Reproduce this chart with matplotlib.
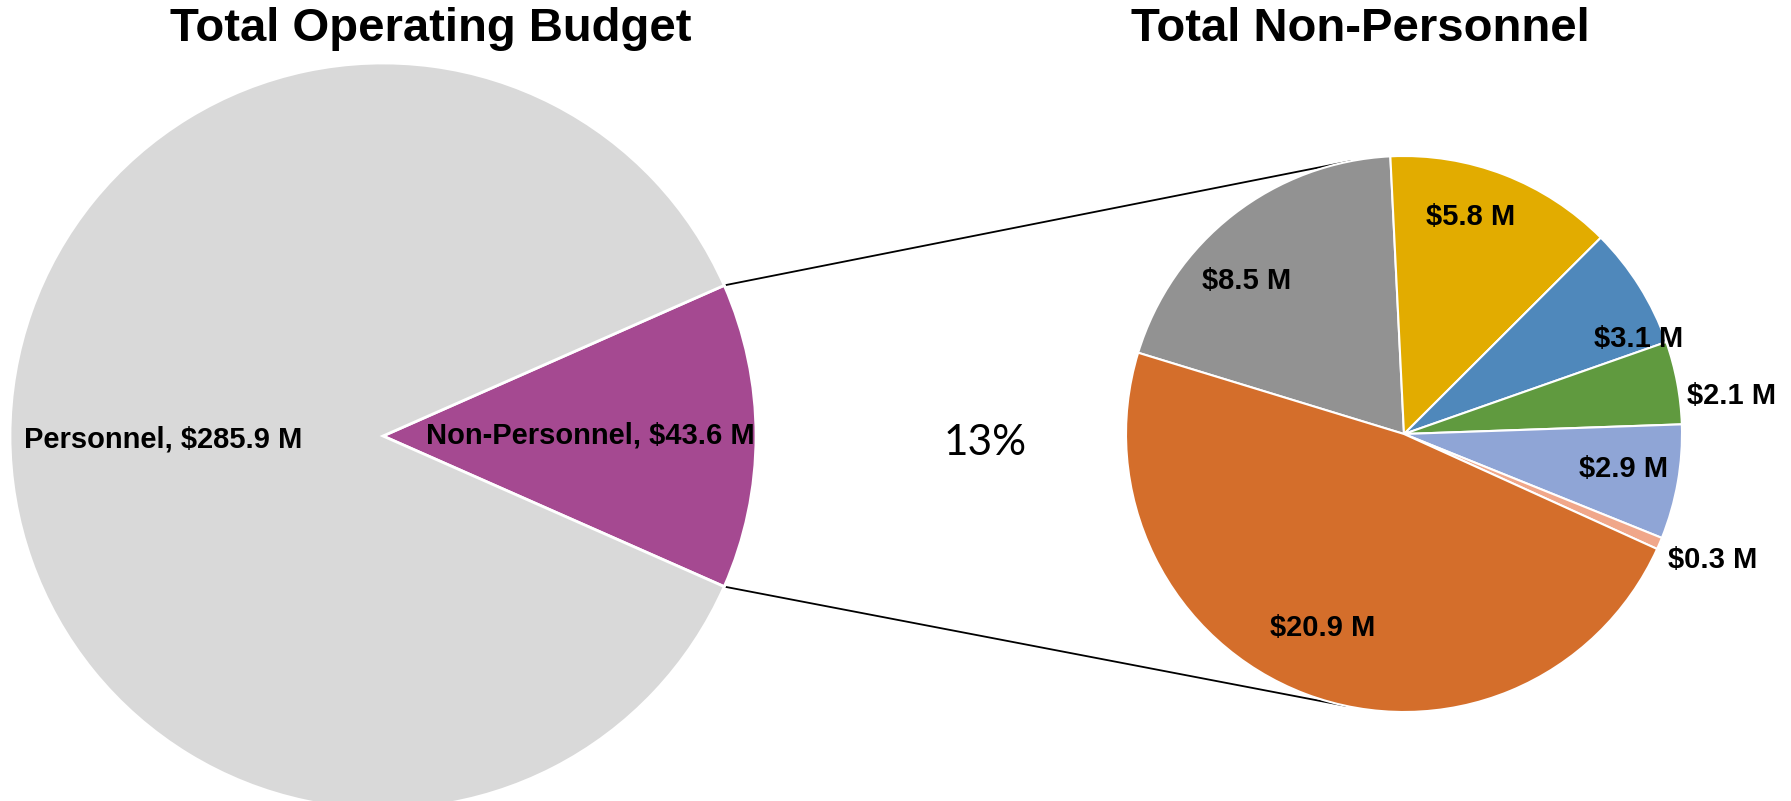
import numpy as np
import matplotlib
matplotlib.use("Agg")
import matplotlib.pyplot as plt

# budget split, $M
budget_labels = ["Non-Personnel", "Personnel"]
budget_values = [43.6, 285.9]
budget_colors = ["#A54991", "#D9D9D9"]

# non-personnel breakdown, $M (clockwise from the gray slice)
np_values = [8.5, 5.8, 3.1, 2.1, 2.9, 0.3, 20.9]
np_colors = ["#929292", "#E2AC00", "#4F88BB", "#609A3F", "#8FA5D6", "#F0A78A", "#D46E2B"]
# label placement: fraction of radius and angle nudge from the wedge middle
np_label_r = [0.79, 0.815, 0.91, 1.185, 0.80, 1.20, 0.755]
np_label_da = [8, 4, -10, -4, 1, 1, -2]

W, H = 1791, 801
fig = plt.figure(figsize=(W / 100, H / 100), dpi=100)
ax = fig.add_axes([0, 0, 1, 1])

FONT = "Liberation Sans"

# left pie
c1 = (383, 365)
r1 = 373
share = budget_values[0] / sum(budget_values)
half = share * 360 / 2
w1, _ = ax.pie(budget_values, colors=budget_colors, center=c1, radius=r1,
               startangle=-half, counterclock=True,
               wedgeprops=dict(edgecolor="white", linewidth=2))

ax.text(163, 362, f"{budget_labels[1]}, ${budget_values[1]} M", ha="center", va="center",
        fontsize=21, fontweight="bold", family=FONT)
ax.text(590, 366, f"{budget_labels[0]}, ${budget_values[0]} M", ha="center", va="center",
        fontsize=21, fontweight="bold", family=FONT)
ax.text(985, 358, f"{share * 100:.0f}%", ha="center", va="center", fontsize=30.5, family="Lato")

# right pie
c2 = (1404, 367)
r2 = 278
w2, _ = ax.pie(np_values, colors=np_colors, center=c2, radius=r2,
               startangle=163, counterclock=False,
               wedgeprops=dict(edgecolor="white", linewidth=1.5))

for w, v, rf, da in zip(w2, np_values, np_label_r, np_label_da):
    mid = np.deg2rad((w.theta1 + w.theta2) / 2 + da)
    ax.text(c2[0] + rf * r2 * np.cos(mid), c2[1] + rf * r2 * np.sin(mid), f"${v} M",
            ha="center", va="center", fontsize=21, fontweight="bold", family=FONT)

# connector lines
for sgn, ang in [(1, 101), (-1, 258)]:
    x0 = c1[0] + r1 * np.cos(np.deg2rad(sgn * half))
    y0 = c1[1] + r1 * np.sin(np.deg2rad(sgn * half))
    x1 = c2[0] + r2 * np.cos(np.deg2rad(ang))
    y1 = c2[1] + r2 * np.sin(np.deg2rad(ang))
    ax.plot([x0, x1], [y0, y1], color="black", lw=1.3, zorder=0)

ax.text(431, 772, "Total Operating Budget", ha="center", va="center",
        fontsize=34, fontweight="bold", family=FONT)
ax.text(1360, 772, "Total Non-Personnel", ha="center", va="center",
        fontsize=34, fontweight="bold", family=FONT)

ax.set_xlim(0, W)
ax.set_ylim(0, H)
ax.set_aspect("equal")
ax.axis("off")

fig.savefig("out.png", dpi=100, facecolor="white")
